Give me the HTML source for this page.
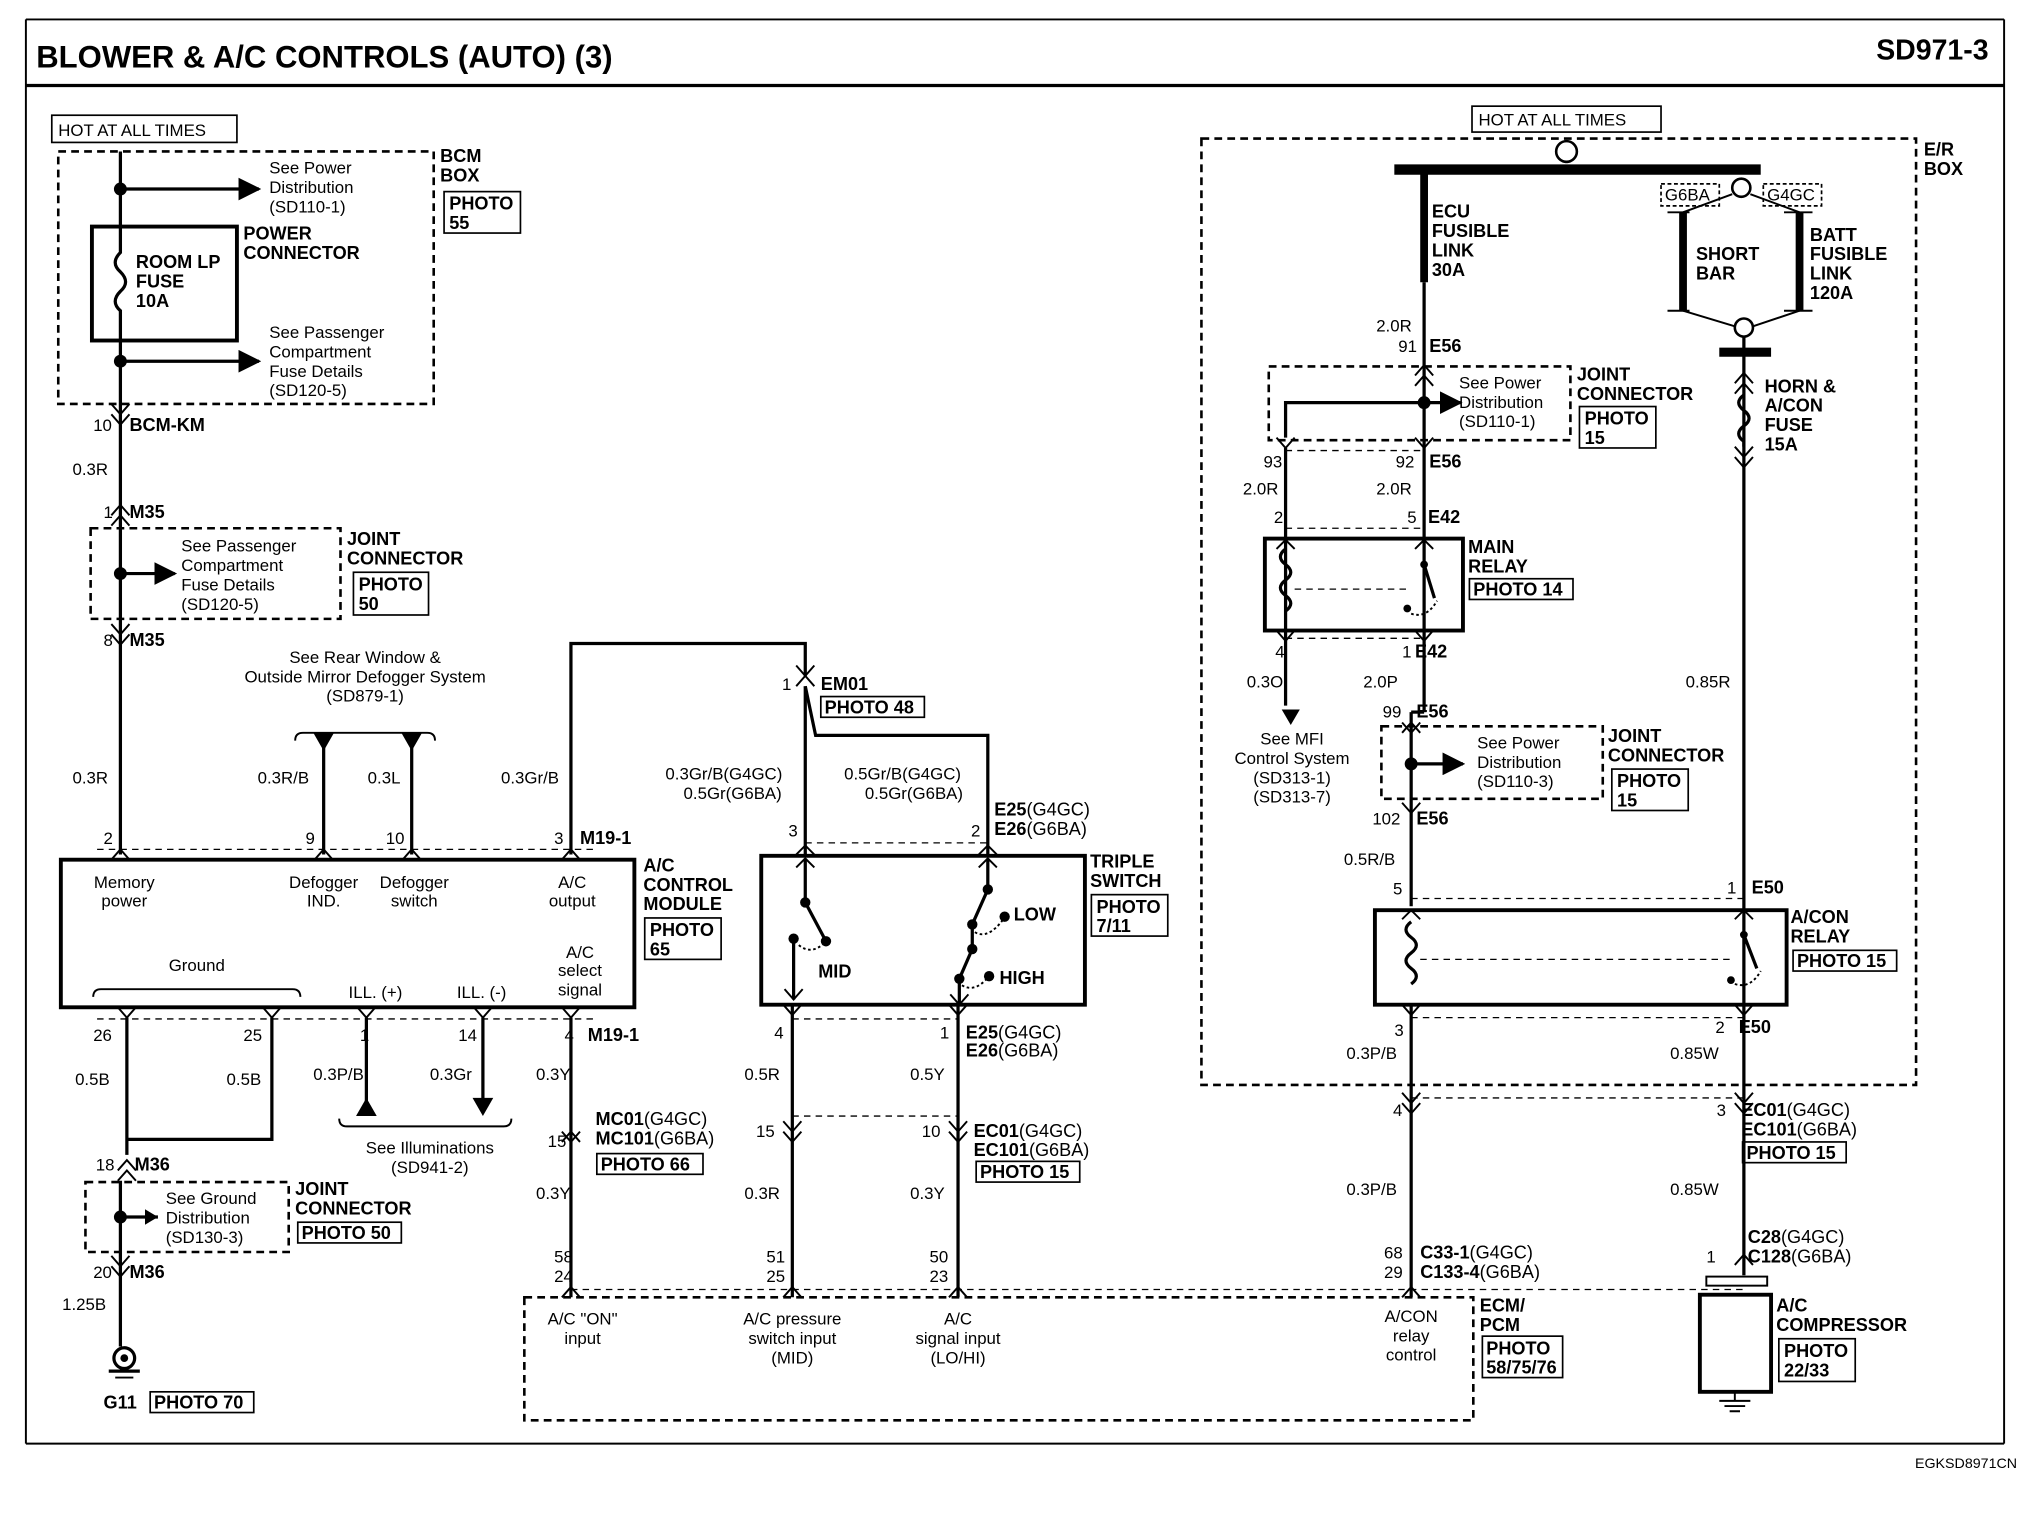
<!DOCTYPE html>
<html><head><meta charset="utf-8"><style>
html,body{margin:0;padding:0;background:#fff;}
svg{display:block;}
text{font-family:"Liberation Sans",sans-serif;font-size:13px;fill:#000;}
.b{font-weight:bold;font-size:14px;}
.w{stroke:#000;stroke-width:2.5;fill:none;}
.t{stroke:#000;stroke-width:1.5;fill:none;}
.d{stroke:#000;stroke-width:2;fill:none;stroke-dasharray:6,4;}
.dl{stroke:#000;stroke-width:1;fill:none;stroke-dasharray:5,4;}
.bx{stroke:#000;stroke-width:1.3;fill:none;}
.k{stroke:#000;stroke-width:3;fill:none;}
</style></head><body>
<svg width="2030" height="1520" viewBox="0 0 1568 1174" preserveAspectRatio="none" xmlns="http://www.w3.org/2000/svg">
<defs>
<marker id="ar" viewBox="0 0 10 10" refX="9" refY="5" markerWidth="7" markerHeight="7" orient="auto"><path d="M0,0L10,5L0,10z" fill="#000"/></marker>
</defs>
<!-- frame -->
<line x1="20" y1="15" x2="1548" y2="15" class="t"/>
<line x1="20" y1="66" x2="1548" y2="66" class="w"/>
<line x1="20" y1="15" x2="20" y2="1115" class="t"/>
<line x1="1548" y1="15" x2="1548" y2="1115" class="t"/>
<line x1="20" y1="1115" x2="1548" y2="1115" class="t"/>
<text x="28" y="52" style="font-size:24px;font-weight:bold">BLOWER &amp; A/C CONTROLS (AUTO) (3)</text>
<text x="1536" y="46" text-anchor="end" style="font-size:22px;font-weight:bold">SD971-3</text>
<text x="1558" y="1134" text-anchor="end" style="font-size:11px">EGKSD8971CN</text>

<!-- LEFT: BCM -->
<rect x="40" y="89" width="143" height="21" class="bx"/><text x="45" y="105">HOT AT ALL TIMES</text>
<rect x="45" y="117" width="290" height="195" class="d"/>
<line x1="93" y1="117" x2="93" y2="660" class="w"/>
<circle cx="93" cy="146" r="5"/><circle cx="93" cy="279" r="5"/>
<line x1="93" y1="146" x2="200" y2="146" class="w" marker-end="url(#ar)"/>
<line x1="93" y1="279" x2="200" y2="279" class="w" marker-end="url(#ar)"/>
<rect x="71" y="175" width="112" height="88" fill="#fff" stroke="#000" stroke-width="3"/>
<path d="M93,175 V195 q-8,8 0,15 q8,8 0,15 q-8,8 0,15 V263" class="w"/>
<text x="105" y="207" class="b">ROOM LP</text><text x="105" y="222" class="b">FUSE</text><text x="105" y="237" class="b">10A</text>
<text x="208" y="134">See Power</text><text x="208" y="149">Distribution</text><text x="208" y="164">(SD110-1)</text>
<text x="188" y="185" class="b">POWER</text><text x="188" y="200" class="b">CONNECTOR</text>
<text x="208" y="261">See Passenger</text><text x="208" y="276">Compartment</text><text x="208" y="291">Fuse Details</text><text x="208" y="306">(SD120-5)</text>
<text x="340" y="125" class="b">BCM</text><text x="340" y="140" class="b">BOX</text>
<rect x="343" y="148" width="59" height="32" class="bx"/><text x="347" y="162" class="b">PHOTO</text><text x="347" y="177" class="b">55</text>
<path d="M86,312 l7,8 l7,-8 M86,320 l7,8 l7,-8" class="t"/>
<text x="72" y="333">10</text><text x="100" y="333" class="b">BCM-KM</text>
<text x="56" y="367">0.3R</text>
<path d="M86,398 l7,-8 l7,8 M86,406 l7,-8 l7,8" class="t"/>
<text x="80" y="400">1</text><text x="100" y="400" class="b">M35</text>
<rect x="70" y="408" width="193" height="70" class="d"/>
<circle cx="93" cy="443" r="5"/><line x1="93" y1="443" x2="135" y2="443" class="w" marker-end="url(#ar)"/>
<text x="140" y="426">See Passenger</text><text x="140" y="441">Compartment</text><text x="140" y="456">Fuse Details</text><text x="140" y="471">(SD120-5)</text>
<text x="268" y="421" class="b">JOINT</text><text x="268" y="436" class="b">CONNECTOR</text>
<rect x="273" y="442" width="58" height="33" class="bx"/><text x="277" y="456" class="b">PHOTO</text><text x="277" y="471" class="b">50</text>
<path d="M86,482 l7,8 l7,-8 M86,490 l7,8 l7,-8" class="t"/>
<text x="80" y="499">8</text><text x="100" y="499" class="b">M35</text>
<text x="56" y="605">0.3R</text>

<!-- defogger -->
<text x="282" y="512" text-anchor="middle">See Rear Window &amp;</text>
<text x="282" y="527" text-anchor="middle">Outside Mirror Defogger System</text>
<text x="282" y="542" text-anchor="middle">(SD879-1)</text>
<path d="M228,572 q0,-6 6,-6 H330 q6,0 6,6" class="t"/>
<path d="M242,566 h16 l-8,14z M310,566 h16 l-8,14z"/>
<line x1="250" y1="566" x2="250" y2="660" class="w"/>
<line x1="318" y1="566" x2="318" y2="660" class="w"/>
<text x="199" y="605">0.3R/B</text><text x="284" y="605">0.3L</text><text x="387" y="605">0.3Gr/B</text>

<!-- A/C control module -->
<path d="M441,660 V497 H622 V522" class="w"/>
<rect x="47" y="664" width="443" height="114" class="k"/>
<line x1="75" y1="656" x2="460" y2="656" class="dl"/>
<path d="M86,664 l7,-8 l7,8 M243,664 l7,-8 l7,8 M311,664 l7,-8 l7,8 M434,664 l7,-8 l7,8" class="t"/>
<text x="80" y="652">2</text><text x="236" y="652">9</text><text x="298" y="652">10</text><text x="428" y="652">3</text><text x="448" y="652" class="b">M19-1</text>
<text x="96" y="686" text-anchor="middle">Memory</text><text x="96" y="700" text-anchor="middle">power</text>
<text x="250" y="686" text-anchor="middle">Defogger</text><text x="250" y="700" text-anchor="middle">IND.</text>
<text x="320" y="686" text-anchor="middle">Defogger</text><text x="320" y="700" text-anchor="middle">switch</text>
<text x="442" y="686" text-anchor="middle">A/C</text><text x="442" y="700" text-anchor="middle">output</text>
<text x="152" y="750" text-anchor="middle">Ground</text>
<path d="M72,770 q0,-6 6,-6 H226 q6,0 6,6" class="t"/>
<text x="290" y="771" text-anchor="middle">ILL. (+)</text><text x="372" y="771" text-anchor="middle">ILL. (-)</text>
<text x="448" y="740" text-anchor="middle">A/C</text><text x="448" y="754" text-anchor="middle">select</text><text x="448" y="769" text-anchor="middle">signal</text>
<text x="497" y="673" class="b">A/C</text><text x="497" y="688" class="b">CONTROL</text><text x="497" y="703" class="b">MODULE</text>
<rect x="498" y="709" width="59" height="32" class="bx"/><text x="502" y="723" class="b">PHOTO</text><text x="502" y="738" class="b">65</text>

<line x1="75" y1="787" x2="460" y2="787" class="dl"/>
<path d="M91,778 l7,8 l7,-8 M203,778 l7,8 l7,-8 M276,778 l7,8 l7,-8 M366,778 l7,8 l7,-8 M434,778 l7,8 l7,-8" class="t"/>
<text x="72" y="804">26</text><text x="188" y="804">25</text><text x="278" y="804">1</text><text x="354" y="804">14</text><text x="436" y="804">4</text><text x="454" y="804" class="b">M19-1</text>
<line x1="98" y1="786" x2="98" y2="892" class="w"/>
<path d="M210,786 V880 H98" class="w"/>
<text x="58" y="838">0.5B</text><text x="175" y="838">0.5B</text>
<path d="M91,904 l7,-8 l7,8 M91,912 l7,-8 l7,8" class="t"/>
<text x="74" y="904">18</text><text x="104" y="904" class="b">M36</text>
<line x1="93" y1="912" x2="93" y2="1040" class="w"/>
<rect x="66" y="913" width="157" height="54" class="d"/>
<circle cx="93" cy="940" r="5"/><path d="M93,940 H122" class="w"/><path d="M112,934 l10,6 l-10,6z"/>
<text x="128" y="930">See Ground</text><text x="128" y="945">Distribution</text><text x="128" y="960">(SD130-3)</text>
<text x="228" y="923" class="b">JOINT</text><text x="228" y="938" class="b">CONNECTOR</text>
<rect x="230" y="944" width="80" height="16" class="bx"/><text x="233" y="957" class="b">PHOTO 50</text>
<path d="M86,970 l7,8 l7,-8 M86,978 l7,8 l7,-8" class="t"/>
<text x="72" y="987">20</text><text x="100" y="987" class="b">M36</text>
<text x="48" y="1012">1.25B</text>
<circle cx="96" cy="1049" r="8" class="w"/><circle cx="96" cy="1049" r="3"/>
<line x1="84" y1="1059" x2="108" y2="1059" class="w"/><line x1="89" y1="1064" x2="103" y2="1064" class="t"/>
<text x="80" y="1088" class="b">G11</text>
<rect x="116" y="1075" width="80" height="16" class="bx"/><text x="119" y="1088" class="b">PHOTO 70</text>

<!-- illuminations -->
<line x1="283" y1="786" x2="283" y2="852" class="w"/><path d="M275,862 h16 l-8,-14z"/>
<line x1="373" y1="786" x2="373" y2="852" class="w"/><path d="M365,848 h16 l-8,14z"/>
<text x="242" y="834">0.3P/B</text><text x="332" y="834">0.3Gr</text>
<path d="M262,864 q0,6 6,6 H389 q6,0 6,-6" class="t"/>
<text x="332" y="891" text-anchor="middle">See Illuminations</text><text x="332" y="906" text-anchor="middle">(SD941-2)</text>

<!-- M19-1 pin4 -->
<line x1="441" y1="786" x2="441" y2="1002" class="w"/>
<text x="414" y="834">0.3Y</text>
<path d="M434,882 l7,-8 l7,8 M434,874 l7,8 l7,-8" class="t"/>
<text x="423" y="886">15</text>
<text x="460" y="869" class="b">MC01<tspan style="font-weight:normal">(G4GC)</tspan></text>
<text x="460" y="884" class="b">MC101<tspan style="font-weight:normal">(G6BA)</tspan></text>
<rect x="461" y="891" width="82" height="16" class="bx"/><text x="464" y="904" class="b">PHOTO 66</text>
<text x="414" y="926">0.3Y</text>
<text x="428" y="975">58</text><text x="428" y="990">24</text>
<path d="M434,1002 l7,-8 l7,8" class="t"/>

<!-- triple switch -->
<path d="M622,522 l-7,-8 M622,522 l7,-8 M615,530 l7,-8 l7,8" class="t"/>
<text x="604" y="533">1</text><text x="634" y="533" class="b">EM01</text>
<rect x="634" y="538" width="80" height="16" class="bx"/><text x="637" y="551" class="b">PHOTO 48</text>
<line x1="622" y1="530" x2="622" y2="660" class="w"/>
<path d="M622,530 L630,568 H763 V660" class="w"/>
<text x="514" y="602">0.3Gr/B(G4GC)</text><text x="528" y="617">0.5Gr(G6BA)</text>
<text x="652" y="602">0.5Gr/B(G4GC)</text><text x="668" y="617">0.5Gr(G6BA)</text>
<text x="609" y="646">3</text><text x="750" y="646">2</text>
<text x="768" y="630" class="b">E25<tspan style="font-weight:normal">(G4GC)</tspan></text>
<text x="768" y="645" class="b">E26<tspan style="font-weight:normal">(G6BA)</tspan></text>
<line x1="622" y1="651" x2="763" y2="651" class="dl"/>
<rect x="588" y="661" width="250" height="115" class="k"/>
<path d="M615,660 l7,-7 l7,7 M756,660 l7,-7 l7,7 M615,670 l7,-7 l7,7 M756,670 l7,-7 l7,7" class="t"/>
<line x1="622" y1="663" x2="622" y2="697" class="w"/>
<circle cx="622" cy="697" r="4"/><line x1="622" y1="697" x2="638" y2="727" class="w"/><circle cx="638" cy="727" r="4"/>
<circle cx="613" cy="725" r="4"/><path d="M613,725 V772" class="w"/><path d="M606,764 l7,8 l7,-8" class="t"/>
<path d="M617,730 q10,8 20,-2" class="t" stroke-dasharray="2,2"/>
<text x="632" y="755" class="b">MID</text>
<line x1="763" y1="663" x2="763" y2="687" class="w"/>
<circle cx="763" cy="687" r="4"/><line x1="763" y1="687" x2="751" y2="714" class="w"/><circle cx="751" cy="714" r="4"/>
<circle cx="776" cy="708" r="4"/><path d="M753,720 q10,6 22,-10" class="t" stroke-dasharray="2,2"/>
<text x="783" y="711" class="b">LOW</text>
<line x1="751" y1="714" x2="751" y2="733" class="w"/><circle cx="751" cy="733" r="4"/>
<line x1="751" y1="733" x2="741" y2="756" class="w"/><circle cx="741" cy="756" r="4"/>
<circle cx="764" cy="754" r="4"/><path d="M743,761 q10,6 20,-6" class="t" stroke-dasharray="2,2"/>
<text x="772" y="760" class="b">HIGH</text>
<line x1="741" y1="756" x2="741" y2="776" class="w"/><path d="M734,768 l7,8 l7,-8" class="t"/>
<path d="M605,776 l7,8 l7,-8 M733,776 l7,8 l7,-8" class="t"/>
<line x1="612" y1="787" x2="740" y2="787" class="dl"/>
<line x1="612" y1="776" x2="612" y2="1002" class="w"/>
<line x1="740" y1="776" x2="740" y2="1002" class="w"/>
<text x="598" y="802">4</text><text x="726" y="802">1</text>
<text x="746" y="802" class="b">E25<tspan style="font-weight:normal">(G4GC)</tspan></text>
<text x="746" y="816" class="b">E26<tspan style="font-weight:normal">(G6BA)</tspan></text>
<text x="842" y="670" class="b">TRIPLE</text><text x="842" y="685" class="b">SWITCH</text>
<rect x="843" y="691" width="59" height="32" class="bx"/><text x="847" y="705" class="b">PHOTO</text><text x="847" y="720" class="b">7/11</text>
<text x="575" y="834">0.5R</text><text x="703" y="834">0.5Y</text>
<line x1="612" y1="862" x2="740" y2="862" class="dl"/>
<path d="M605,866 l7,8 l7,-8 M605,874 l7,8 l7,-8 M733,866 l7,8 l7,-8 M733,874 l7,8 l7,-8" class="t"/>
<text x="584" y="878">15</text><text x="712" y="878">10</text>
<text x="752" y="878" class="b">EC01<tspan style="font-weight:normal">(G4GC)</tspan></text>
<text x="752" y="893" class="b">EC101<tspan style="font-weight:normal">(G6BA)</tspan></text>
<rect x="754" y="897" width="80" height="16" class="bx"/><text x="757" y="910" class="b">PHOTO 15</text>
<text x="575" y="926">0.3R</text><text x="703" y="926">0.3Y</text>
<text x="592" y="975">51</text><text x="592" y="990">25</text>
<text x="718" y="975">50</text><text x="718" y="990">23</text>
<path d="M605,1002 l7,-8 l7,8 M733,1002 l7,-8 l7,8" class="t"/>

<!-- ECM/PCM -->
<rect x="405" y="1002" width="733" height="95" class="d"/>
<line x1="441" y1="996" x2="1347" y2="996" class="dl"/>
<text x="450" y="1023" text-anchor="middle">A/C "ON"</text><text x="450" y="1038" text-anchor="middle">input</text>
<text x="612" y="1023" text-anchor="middle">A/C pressure</text><text x="612" y="1038" text-anchor="middle">switch input</text><text x="612" y="1053" text-anchor="middle">(MID)</text>
<text x="740" y="1023" text-anchor="middle">A/C</text><text x="740" y="1038" text-anchor="middle">signal input</text><text x="740" y="1053" text-anchor="middle">(LO/HI)</text>
<text x="1090" y="1021" text-anchor="middle">A/CON</text><text x="1090" y="1036" text-anchor="middle">relay</text><text x="1090" y="1051" text-anchor="middle">control</text>
<text x="1143" y="1013" class="b">ECM/</text><text x="1143" y="1028" class="b">PCM</text>
<rect x="1145" y="1032" width="62" height="32" class="bx"/><text x="1148" y="1046" class="b">PHOTO</text><text x="1148" y="1061" class="b">58/75/76</text>

<!-- RIGHT: E/R box -->
<rect x="928" y="107" width="552" height="731" class="d"/>
<text x="1486" y="120" class="b">E/R</text><text x="1486" y="135" class="b">BOX</text>
<rect x="1137" y="82" width="146" height="20" class="bx"/><text x="1142" y="97">HOT AT ALL TIMES</text>
<line x1="1077" y1="131" x2="1360" y2="131" stroke="#000" stroke-width="8"/>
<line x1="1210" y1="126" x2="1210" y2="123" class="w"/>
<circle cx="1210" cy="117" r="8" fill="#fff" stroke="#000" stroke-width="2"/>
<line x1="1100" y1="131" x2="1100" y2="218" stroke="#000" stroke-width="6"/>
<text x="1106" y="168" class="b">ECU</text><text x="1106" y="183" class="b">FUSIBLE</text><text x="1106" y="198" class="b">LINK</text><text x="1106" y="213" class="b">30A</text>
<line x1="1100" y1="218" x2="1100" y2="550" class="w"/>
<text x="1063" y="256">2.0R</text><text x="1080" y="272">91</text><text x="1104" y="272" class="b">E56</text>
<path d="M1093,290 l7,-8 l7,8 M1093,298 l7,-8 l7,8" class="t"/>
<rect x="980" y="283" width="233" height="57" class="d"/>
<circle cx="1100" cy="311" r="5"/><line x1="1100" y1="311" x2="1128" y2="311" class="w" marker-end="url(#ar)"/>
<path d="M1100,311 H993 V338" class="w"/>
<text x="1127" y="300">See Power</text><text x="1127" y="315">Distribution</text><text x="1127" y="330">(SD110-1)</text>
<text x="1218" y="294" class="b">JOINT</text><text x="1218" y="309" class="b">CONNECTOR</text>
<rect x="1220" y="314" width="59" height="32" class="bx"/><text x="1224" y="328" class="b">PHOTO</text><text x="1224" y="343" class="b">15</text>
<path d="M986,338 l7,8 l7,-8 M1093,338 l7,8 l7,-8" class="t"/>
<line x1="993" y1="348" x2="1100" y2="348" class="dl"/>
<text x="976" y="361">93</text><text x="1078" y="361">92</text><text x="1104" y="361" class="b">E56</text>
<text x="960" y="382">2.0R</text><text x="1063" y="382">2.0R</text>
<line x1="993" y1="346" x2="993" y2="545" class="w"/>
<text x="984" y="404">2</text><text x="1087" y="404">5</text><text x="1103" y="404" class="b">E42</text>
<line x1="993" y1="408" x2="1100" y2="408" class="dl"/>
<rect x="977" y="416" width="153" height="71" class="k"/>
<path d="M986,424 l7,-7 l7,7 M1093,424 l7,-7 l7,7" class="t"/>
<path d="M993,424 q-8,6 0,12 q8,6 0,12 q-8,6 0,12 q8,6 0,12" class="w"/>
<line x1="1000" y1="455" x2="1090" y2="455" class="dl"/>
<circle cx="1100" cy="436" r="3"/><line x1="1100" y1="436" x2="1108" y2="462" class="w"/>
<circle cx="1087" cy="470" r="3"/><path d="M1090,474 q12,4 20,-10" class="t" stroke-dasharray="2,2"/>
<text x="1134" y="427" class="b">MAIN</text><text x="1134" y="442" class="b">RELAY</text>
<rect x="1135" y="447" width="80" height="16" class="bx"/><text x="1138" y="460" class="b">PHOTO 14</text>
<path d="M986,487 l7,8 l7,-8 M1093,487 l7,8 l7,-8" class="t"/>
<line x1="993" y1="493" x2="1100" y2="493" class="dl"/>
<text x="985" y="508">4</text><text x="1083" y="508">1</text><text x="1093" y="508" class="b">E42</text>
<path d="M990,548 h14 l-7,12z"/>
<text x="963" y="531">0.3O</text><text x="1053" y="531">2.0P</text>
<text x="998" y="575" text-anchor="middle">See MFI</text><text x="998" y="590" text-anchor="middle">Control System</text>
<text x="998" y="605" text-anchor="middle">(SD313-1)</text><text x="998" y="620" text-anchor="middle">(SD313-7)</text>
<text x="1068" y="554">99</text><text x="1094" y="554" class="b">E56</text>
<path d="M1083,566 l7,-8 l7,8 M1083,558 l7,8 l7,-8" class="t"/>
<rect x="1067" y="561" width="171" height="56" class="d"/>
<circle cx="1090" cy="590" r="5"/><line x1="1090" y1="590" x2="1130" y2="590" class="w" marker-end="url(#ar)"/>
<text x="1141" y="578">See Power</text><text x="1141" y="593">Distribution</text><text x="1141" y="608">(SD110-3)</text>
<text x="1242" y="573" class="b">JOINT</text><text x="1242" y="588" class="b">CONNECTOR</text>
<rect x="1245" y="594" width="59" height="32" class="bx"/><text x="1249" y="608" class="b">PHOTO</text><text x="1249" y="623" class="b">15</text>
<path d="M1083,620 l7,8 l7,-8" class="t"/>
<text x="1060" y="637">102</text><text x="1094" y="637" class="b">E56</text>
<line x1="1090" y1="550" x2="1090" y2="700" class="w"/>
<line x1="1090" y1="550" x2="1100" y2="550" class="w"/>
<text x="1038" y="668">0.5R/B</text>
<text x="1076" y="691">5</text><text x="1334" y="690">1</text><text x="1353" y="690" class="b">E50</text>
<line x1="1090" y1="694" x2="1347" y2="694" class="dl"/>
<rect x="1062" y="703" width="318" height="73" class="k"/>
<path d="M1083,710 l7,-7 l7,7 M1340,710 l7,-7 l7,7" class="t"/>
<path d="M1090,712 q-8,6 0,12 q8,6 0,12 q-8,6 0,12 q8,6 0,12" class="w"/>
<line x1="1097" y1="741" x2="1340" y2="741" class="dl"/>
<circle cx="1347" cy="722" r="3"/><line x1="1347" y1="722" x2="1357" y2="748" class="w"/>
<circle cx="1337" cy="757" r="3"/><path d="M1340,760 q12,4 20,-10" class="t" stroke-dasharray="2,2"/>
<text x="1383" y="713" class="b">A/CON</text><text x="1383" y="728" class="b">RELAY</text>
<rect x="1385" y="734" width="80" height="16" class="bx"/><text x="1388" y="747" class="b">PHOTO 15</text>
<path d="M1083,776 l7,8 l7,-8 M1340,776 l7,8 l7,-8" class="t"/>
<line x1="1090" y1="786" x2="1347" y2="786" class="dl"/>
<text x="1077" y="800">3</text><text x="1325" y="798">2</text><text x="1343" y="798" class="b">E50</text>
<line x1="1090" y1="776" x2="1090" y2="1002" class="w"/>
<line x1="1347" y1="260" x2="1347" y2="985" class="w"/>
<text x="1040" y="818">0.3P/B</text><text x="1290" y="818">0.85W</text>
<line x1="1090" y1="848" x2="1347" y2="848" class="dl"/>
<path d="M1083,844 l7,8 l7,-8 M1083,852 l7,8 l7,-8 M1340,844 l7,8 l7,-8 M1340,852 l7,8 l7,-8" class="t"/>
<text x="1076" y="862">4</text><text x="1326" y="862">3</text>
<text x="1345" y="862" class="b">EC01<tspan style="font-weight:normal">(G4GC)</tspan></text>
<text x="1345" y="877" class="b">EC101<tspan style="font-weight:normal">(G6BA)</tspan></text>
<rect x="1346" y="882" width="80" height="16" class="bx"/><text x="1349" y="895" class="b">PHOTO 15</text>
<text x="1040" y="923">0.3P/B</text><text x="1290" y="923">0.85W</text>
<text x="1069" y="972">68</text><text x="1069" y="987">29</text>
<text x="1097" y="972" class="b">C33-1<tspan style="font-weight:normal">(G4GC)</tspan></text>
<text x="1097" y="987" class="b">C133-4<tspan style="font-weight:normal">(G6BA)</tspan></text>
<path d="M1083,1002 l7,-8 l7,8" class="t"/>

<!-- batt short bar -->
<rect x="1283" y="142" width="45" height="17" class="bx" stroke-dasharray="3,2"/><text x="1286" y="155">G6BA</text>
<rect x="1362" y="142" width="45" height="17" class="bx" stroke-dasharray="3,2"/><text x="1365" y="155">G4GC</text>
<circle cx="1345" cy="145" r="7" fill="#fff" stroke="#000" stroke-width="2"/>
<path d="M1338,150 L1300,164 M1352,150 L1390,164" class="t"/>
<line x1="1300" y1="164" x2="1300" y2="240" stroke="#000" stroke-width="6"/>
<line x1="1390" y1="164" x2="1390" y2="240" stroke="#000" stroke-width="6"/>
<path d="M1288,164 H1305 M1378,164 H1400 M1288,240 H1305 M1378,240 H1400" class="t"/>
<text x="1310" y="201" class="b">SHORT</text><text x="1310" y="216" class="b">BAR</text>
<text x="1398" y="186" class="b">BATT</text><text x="1398" y="201" class="b">FUSIBLE</text><text x="1398" y="216" class="b">LINK</text><text x="1398" y="231" class="b">120A</text>
<path d="M1300,240 L1340,252 M1390,240 L1354,252" class="t"/>
<circle cx="1347" cy="253" r="7" fill="#fff" stroke="#000" stroke-width="2"/>
<line x1="1328" y1="272" x2="1368" y2="272" stroke="#000" stroke-width="7"/>
<path d="M1340,296 l7,-8 l7,8 M1340,304 l7,-8 l7,8" class="t"/>
<path d="M1347,305 q-8,6 0,12 q8,6 0,12 q-8,6 0,12 V345" class="w" fill="#fff"/>
<path d="M1340,345 l7,8 l7,-8 M1340,353 l7,8 l7,-8" class="t"/>
<text x="1363" y="303" class="b">HORN &amp;</text><text x="1363" y="318" class="b">A/CON</text><text x="1363" y="333" class="b">FUSE</text><text x="1363" y="348" class="b">15A</text>
<text x="1302" y="531">0.85R</text>

<!-- compressor -->
<path d="M1340,977 l7,-8 l7,8" class="t"/>
<text x="1318" y="975">1</text>
<text x="1350" y="960" class="b">C28<tspan style="font-weight:normal">(G4GC)</tspan></text>
<text x="1350" y="975" class="b">C128<tspan style="font-weight:normal">(G6BA)</tspan></text>
<rect x="1318" y="986" width="47" height="7" class="t" fill="#fff"/>
<rect x="1313" y="1000" width="55" height="75" class="k"/>
<line x1="1340" y1="1075" x2="1340" y2="1082" class="t"/>
<path d="M1328,1082 H1352 M1332,1086 H1348 M1336,1090 H1344" class="t"/>
<text x="1372" y="1013" class="b">A/C</text><text x="1372" y="1028" class="b">COMPRESSOR</text>
<rect x="1374" y="1034" width="59" height="33" class="bx"/><text x="1378" y="1048" class="b">PHOTO</text><text x="1378" y="1063" class="b">22/33</text>
</svg>
</body></html>
